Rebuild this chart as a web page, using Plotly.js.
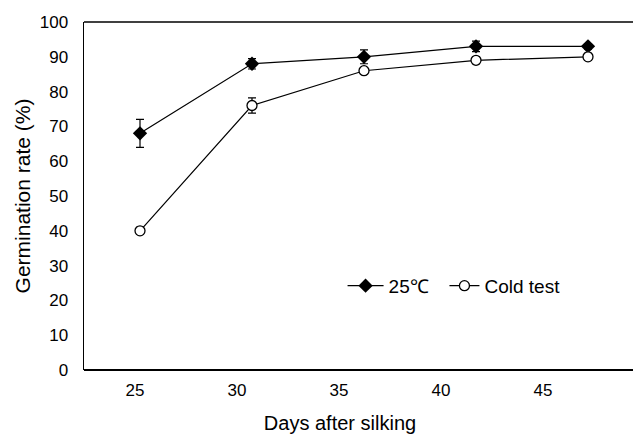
<!DOCTYPE html>
<html>
<head>
<meta charset="utf-8">
<script src="https://cdn.plot.ly/plotly-3.0.1.min.js"></script>
<style>html,body{margin:0;padding:0;background:#fff;}#chart{width:633px;height:434px;}</style>
</head>
<body>
<div id="chart"></div>
<script>
const days = [25, 30, 35, 40, 45];
const warmName = "25\u2103";
const warmRate = [68, 88, 90, 93, 93];
const warmErr = [4, 1.5, 2, 1.5, 0.8];
const coldName = "Cold test";
const coldRate = [40, 76, 86, 89, 90];
const coldErr = [1, 2.2, 0.8, 1, 1];
const yTicks = [0, 10, 20, 30, 40, 50, 60, 70, 80, 90, 100];
const xTickLabels = ["25", "30", "35", "40", "45"];

const font = "Liberation Sans, Arial, Helvetica, sans-serif";

const traces = [
  {
    x: days, y: warmRate, name: warmName, type: "scatter", mode: "lines+markers",
    legend: "legend",
    line: {color: "#000", width: 1.2},
    marker: {symbol: "diamond", size: 11, color: "#000", line: {color: "#000", width: 0}},
    error_y: {type: "data", array: warmErr, visible: true, color: "#000", thickness: 1.2, width: 4}
  },
  {
    x: days, y: coldRate, name: coldName, type: "scatter", mode: "lines+markers",
    legend: "legend2",
    line: {color: "#000", width: 1.2},
    marker: {symbol: "circle", size: 10, color: "#fff", line: {color: "#000", width: 1.3}},
    error_y: {type: "data", array: coldErr, visible: true, color: "#000", thickness: 1.2, width: 4}
  },
  {
    x: days, y: coldRate, xaxis: "x2", type: "scatter", mode: "markers",
    marker: {opacity: 0}, showlegend: false, hoverinfo: "skip"
  }
];

const legendStyle = {
  orientation: "h", y: 0.242, xanchor: "left", yanchor: "middle",
  font: {family: font, size: 19, color: "#000"},
  bgcolor: "rgba(0,0,0,0)"
};

const layout = {
  width: 633, height: 434,
  margin: {l: 84, r: 37, t: 22, b: 64, pad: 0},
  paper_bgcolor: "#fff", plot_bgcolor: "#fff",
  font: {family: font, color: "#000", size: 16},
  showlegend: true,
  legend: Object.assign({}, legendStyle, {x: 0.505, itemwidth: 36}),
  legend2: Object.assign({}, legendStyle, {x: 0.704, itemwidth: 30}),
  xaxis: {
    range: [22.5, 45.357], showgrid: false, zeroline: false,
    showline: false, showticklabels: false, ticks: ""
  },
  xaxis2: {
    overlaying: "x", side: "bottom", range: [22.5, 47.598],
    tickmode: "array", tickvals: days, ticktext: xTickLabels,
    showgrid: false, zeroline: false, showline: false, ticks: "",
    ticklabelstandoff: 8,
    tickfont: {family: font, size: 17, color: "#000"},
    title: {text: "Days after silking", font: {family: font, size: 20, color: "#000"}, standoff: 18}
  },
  yaxis: {
    range: [0, 100], tickmode: "array", tickvals: yTicks,
    showgrid: false, zeroline: false, showline: true, linecolor: "#000", linewidth: 1.5,
    ticks: "", ticklabelstandoff: 11,
    tickfont: {family: font, size: 17, color: "#000"},
    title: {text: "Germination rate (%)", font: {family: font, size: 21, color: "#000"}, standoff: 3}
  },
  shapes: [
    {type: "line", xref: "paper", yref: "paper", x0: 0, x1: 1.08, y0: 0, y1: 0, line: {color: "#000", width: 1.8}},
    {type: "line", xref: "paper", yref: "paper", x0: 0, x1: 1.08, y0: 1, y1: 1, line: {color: "#000", width: 1.3}}
  ]
};

Plotly.newPlot("chart", traces, layout, {displayModeBar: false, staticPlot: true});
</script>
</body>
</html>
